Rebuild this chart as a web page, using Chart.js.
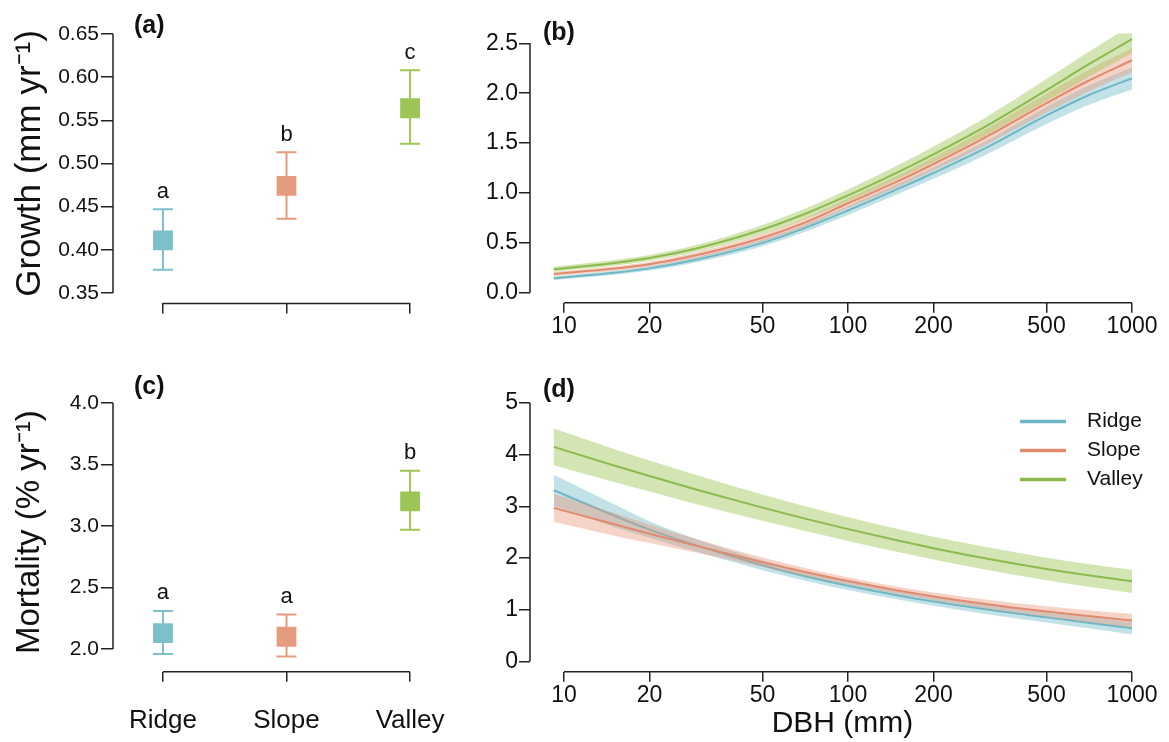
<!DOCTYPE html>
<html>
<head>
<meta charset="utf-8">
<script src="https://cdn.jsdelivr.net/npm/chart.js@4.4.1/dist/chart.umd.min.js"></script>
<style>
  html, body { margin: 0; padding: 0; background: #fff; }
  #wrap { position: relative; width: 1169px; height: 742px; overflow: hidden; }
  canvas { position: absolute; }
</style>
</head>
<body>
<div id="wrap">
  <canvas id="growth-site" width="480" height="360" style="left:0;top:0"></canvas>
  <canvas id="growth-dbh" width="699" height="360" style="left:470px;top:0"></canvas>
  <canvas id="mort-site" width="480" height="382" style="left:0;top:360px"></canvas>
  <canvas id="mort-dbh" width="699" height="382" style="left:470px;top:360px"></canvas>
</div>
<script>
const sites = ['Ridge', 'Slope', 'Valley'];
const sitePos = [1, 2, 3];

// (a) growth by site, mean and CI
const growthMean = [0.411, 0.474, 0.564];
const growthLow = [0.377, 0.436, 0.523];
const growthHigh = [0.447, 0.513, 0.608];
const growthLetters = ['a', 'b', 'c'];
const growthTicks = [0.35, 0.40, 0.45, 0.50, 0.55, 0.60, 0.65];

// (c) mortality by site
const mortMean = [2.13, 2.10, 3.20];
const mortLow = [1.96, 1.94, 2.97];
const mortHigh = [2.31, 2.28, 3.45];
const mortLetters = ['a', 'a', 'b'];
const mortTicks = [2.0, 2.5, 3.0, 3.5, 4.0];

// (b) and (d) fitted curves vs DBH
const dbh = [9.2, 15, 20, 30, 50, 70, 100, 150, 200, 300, 500, 700, 1000];
const dbhTicks = [10, 20, 50, 100, 200, 500, 1000];
const growthDbhTicks = [0, 0.5, 1.0, 1.5, 2.0, 2.5];
const mortDbhTicks = [0, 1, 2, 3, 4, 5];

const growthRidge   = [0.146, 0.200, 0.244, 0.338, 0.500, 0.645, 0.824, 1.040, 1.200, 1.439, 1.777, 1.977, 2.148];
const growthRidgeLo = [0.128, 0.180, 0.222, 0.311, 0.467, 0.607, 0.780, 0.989, 1.142, 1.371, 1.692, 1.880, 2.038];
const growthRidgeHi = [0.164, 0.220, 0.266, 0.365, 0.533, 0.683, 0.868, 1.091, 1.258, 1.507, 1.862, 2.074, 2.258];
const growthSlope   = [0.188, 0.242, 0.286, 0.383, 0.551, 0.700, 0.897, 1.118, 1.290, 1.547, 1.900, 2.122, 2.330];
const growthSlopeLo = [0.168, 0.220, 0.261, 0.353, 0.513, 0.656, 0.847, 1.060, 1.225, 1.469, 1.805, 2.014, 2.210];
const growthSlopeHi = [0.208, 0.264, 0.311, 0.413, 0.589, 0.744, 0.947, 1.176, 1.355, 1.625, 1.995, 2.230, 2.450];
const growthValley   = [0.235, 0.299, 0.349, 0.451, 0.633, 0.786, 0.975, 1.209, 1.387, 1.654, 2.031, 2.285, 2.542];
const growthValleyLo = [0.210, 0.271, 0.319, 0.416, 0.588, 0.734, 0.915, 1.139, 1.309, 1.564, 1.921, 2.160, 2.402];
const growthValleyHi = [0.260, 0.327, 0.379, 0.486, 0.678, 0.838, 1.035, 1.279, 1.465, 1.744, 2.141, 2.410, 2.682];

const mortRidge   = [3.31, 2.82, 2.55, 2.225, 1.86, 1.65, 1.462, 1.275, 1.157, 1.011, 0.851, 0.749, 0.640];
const mortRidgeLo = [3.01, 2.60, 2.39, 2.105, 1.765, 1.565, 1.382, 1.195, 1.075, 0.923, 0.751, 0.639, 0.520];
const mortRidgeHi = [3.61, 3.04, 2.71, 2.345, 1.955, 1.735, 1.542, 1.355, 1.239, 1.099, 0.951, 0.859, 0.760];
const mortSlope   = [2.97, 2.652, 2.470, 2.220, 1.918, 1.734, 1.554, 1.371, 1.256, 1.115, 0.964, 0.876, 0.789];
const mortSlopeLo = [2.695, 2.432, 2.290, 2.090, 1.828, 1.656, 1.482, 1.299, 1.181, 1.030, 0.864, 0.761, 0.659];
const mortSlopeHi = [3.245, 2.872, 2.650, 2.350, 2.008, 1.812, 1.626, 1.443, 1.331, 1.200, 1.064, 0.991, 0.919];
const mortValley   = [4.15, 3.79, 3.585, 3.307, 2.974, 2.767, 2.559, 2.337, 2.19, 2.00, 1.787, 1.664, 1.549];
const mortValleyLo = [3.795, 3.47, 3.285, 3.027, 2.719, 2.527, 2.331, 2.115, 1.97, 1.78, 1.567, 1.442, 1.324];
const mortValleyHi = [4.505, 4.11, 3.885, 3.587, 3.229, 3.007, 2.787, 2.559, 2.41, 2.22, 2.007, 1.886, 1.774];

// colours per site
const markColors = ['#7cc0ca', '#e59b7e', '#9dc556'];
const lineColors = ['#6fb7c4', '#e08a6e', '#8cbb4d'];
const bandColors = ['rgba(120,190,205,0.45)', 'rgba(232,150,122,0.42)', 'rgba(156,198,86,0.45)'];
const axisColor = '#222';
const textColor = '#111';

Chart.defaults.font.family = "'Liberation Sans', Arial, Helvetica, sans-serif";
Chart.defaults.color = textColor;

// R style axis lines: only from first to last tick
const rAxes = {
    id: 'rAxes',
    afterDraw(chart) {
        const {ctx, chartArea, scales} = chart;
        const xs = scales.x.ticks.map(t => scales.x.getPixelForValue(t.value));
        const ys = scales.y.ticks.map(t => scales.y.getPixelForValue(t.value));
        ctx.save();
        ctx.strokeStyle = axisColor;
        ctx.lineWidth = 1.5;
        ctx.beginPath();
        ctx.moveTo(Math.min(...xs), chartArea.bottom);
        ctx.lineTo(Math.max(...xs), chartArea.bottom);
        ctx.moveTo(chartArea.left, Math.min(...ys));
        ctx.lineTo(chartArea.left, Math.max(...ys));
        ctx.stroke();
        ctx.restore();
    }
};

// panel letter (a), (b) ...
function tagPlugin(text, dx, dy) {
    return {
        id: 'tag',
        afterDraw(chart) {
            const {ctx, chartArea} = chart;
            ctx.save();
            ctx.font = "bold 25px 'Liberation Sans', Arial, sans-serif";
            ctx.fillStyle = textColor;
            ctx.textBaseline = 'middle';
            ctx.fillText(text, chartArea.left + dx, chartArea.top + dy);
            ctx.restore();
        }
    };
}

// error bars + significance letters
function errPlugin(low, high, letters) {
    return {
        id: 'errBars',
        beforeDatasetsDraw(chart) {
            const {ctx, scales: {x, y}} = chart;
            ctx.save();
            ctx.lineWidth = 2;
            low.forEach((lo, i) => {
                const px = x.getPixelForValue(sitePos[i]);
                const y1 = y.getPixelForValue(lo);
                const y2 = y.getPixelForValue(high[i]);
                ctx.strokeStyle = markColors[i];
                ctx.beginPath();
                ctx.moveTo(px, y1); ctx.lineTo(px, y2);
                ctx.moveTo(px - 10, y1); ctx.lineTo(px + 10, y1);
                ctx.moveTo(px - 10, y2); ctx.lineTo(px + 10, y2);
                ctx.stroke();
            });
            ctx.restore();
        },
        afterDatasetsDraw(chart) {
            const {ctx, scales: {x, y}} = chart;
            ctx.save();
            ctx.font = "22px 'Liberation Sans', Arial, sans-serif";
            ctx.fillStyle = textColor;
            ctx.textAlign = 'center';
            ctx.textBaseline = 'alphabetic';
            letters.forEach((l, i) => {
                ctx.fillText(l, x.getPixelForValue(sitePos[i]), y.getPixelForValue(high[i]) - 11.5);
            });
            ctx.restore();
        }
    };
}

// legend inside panel (d)
const siteLegend = {
    id: 'siteLegend',
    afterDraw(chart) {
        const {ctx, chartArea} = chart;
        ctx.save();
        ctx.font = "21px 'Liberation Sans', Arial, sans-serif";
        ctx.textBaseline = 'middle';
        ctx.lineWidth = 3.5;
        sites.forEach((s, i) => {
            const yy = chartArea.top + 29 + i * 29;
            ctx.strokeStyle = lineColors[i];
            ctx.beginPath();
            ctx.moveTo(chartArea.right - 135, yy);
            ctx.lineTo(chartArea.right - 89, yy);
            ctx.stroke();
            ctx.fillStyle = textColor;
            ctx.fillText(s, chartArea.right - 68, yy);
        });
        ctx.restore();
    }
};

const tickGrid = len => ({display: true, drawOnChartArea: false, drawTicks: true, tickLength: len, color: axisColor, lineWidth: 1.5});

function siteChart(id, cfg) {
    return new Chart(document.getElementById(id), {
        type: 'scatter',
        data: {
            datasets: [{
                data: sitePos.map((p, i) => ({x: p, y: cfg.mean[i]})),
                backgroundColor: markColors,
                borderWidth: 0,
                pointStyle: 'rect',
                pointRadius: 14,
                pointHoverRadius: 14
            }]
        },
        options: {
            responsive: false,
            animation: false,
            events: [],
            layout: {padding: {left: 0, top: cfg.top, right: 20, bottom: 0}},
            plugins: {legend: {display: false}, tooltip: {enabled: false}},
            scales: {
                x: {
                    type: 'linear', min: 0.596, max: 3.404, bounds: 'data',
                    afterBuildTicks: s => { s.ticks = sitePos.map(v => ({value: v})); },
                    afterFit: s => { s.height = cfg.xHeight; },
                    grid: tickGrid(10),
                    border: {display: false},
                    ticks: {
                        callback: v => cfg.showSites ? sites[v - 1] : '',
                        font: {size: 26}, padding: 24, autoSkip: false, maxRotation: 0
                    }
                },
                y: {
                    type: 'linear', min: cfg.ymin, max: cfg.ymax, bounds: 'data',
                    afterBuildTicks: s => { s.ticks = cfg.ticks.map(v => ({value: v})); },
                    afterFit: s => { s.width = 113; },
                    grid: tickGrid(12),
                    border: {display: false},
                    ticks: {callback: v => v.toFixed(cfg.dec), font: {size: 21}, padding: 2, autoSkip: false},
                    title: {display: true, text: cfg.title, font: {size: cfg.titleSize}, color: textColor, padding: {top: cfg.titlePad, bottom: 0}}
                }
            }
        },
        plugins: [rAxes, errPlugin(cfg.low, cfg.high, cfg.letters), tagPlugin(cfg.tag, 21, cfg.tagDy)]
    });
}

function dbhChart(id, cfg) {
    const pts = arr => dbh.map((d, i) => ({x: d, y: arr[i]}));
    const datasets = [];
    cfg.series.forEach((s, i) => {
        const rank = 2 * (cfg.series.length - i);
        datasets.push({data: pts(s.hi), fill: '+1', backgroundColor: bandColors[i], borderColor: 'rgba(0,0,0,0)', borderWidth: 0, pointRadius: 0, cubicInterpolationMode: 'monotone', order: rank + 1});
        datasets.push({data: pts(s.lo), fill: false, borderColor: 'rgba(0,0,0,0)', borderWidth: 0, pointRadius: 0, cubicInterpolationMode: 'monotone', order: rank + 1});
        datasets.push({label: sites[i], data: pts(s.mid), fill: false, borderColor: lineColors[i], borderWidth: 2, pointRadius: 0, cubicInterpolationMode: 'monotone', order: rank});
    });
    const plugins = [rAxes, tagPlugin(cfg.tag, 13, cfg.tagDy)];
    if (cfg.legend) plugins.push(siteLegend);
    return new Chart(document.getElementById(id), {
        type: 'line',
        data: {datasets},
        options: {
            responsive: false,
            animation: false,
            events: [],
            layout: {padding: {left: 0, top: cfg.top, right: 14, bottom: 0}},
            plugins: {legend: {display: false}, tooltip: {enabled: false}},
            scales: {
                x: {
                    type: 'logarithmic', min: 7.59, max: 1205, bounds: 'data',
                    afterBuildTicks: s => { s.ticks = dbhTicks.map(v => ({value: v})); },
                    afterFit: s => { s.height = cfg.xHeight; },
                    grid: tickGrid(10),
                    border: {display: false},
                    ticks: {callback: v => String(v), font: {size: 23}, padding: 0, autoSkip: false, maxRotation: 0},
                    title: {display: !!cfg.xTitle, text: cfg.xTitle || '', font: {size: 30}, color: textColor, padding: {top: 0, bottom: 0}}
                },
                y: {
                    type: 'linear', min: cfg.ymin, max: cfg.ymax, bounds: 'data',
                    afterBuildTicks: s => { s.ticks = cfg.ticks.map(v => ({value: v})); },
                    afterFit: s => { s.width = 60; },
                    grid: tickGrid(11),
                    border: {display: false},
                    ticks: {callback: v => v.toFixed(cfg.dec), font: {size: 23}, padding: 1, autoSkip: false}
                }
            }
        },
        plugins
    });
}

siteChart('growth-site', {
    mean: growthMean, low: growthLow, high: growthHigh, letters: growthLetters,
    ticks: growthTicks, ymin: 0.338, ymax: 0.662, dec: 2,
    title: 'Growth (mm yr\u207B\u00B9)', titleSize: 35, titlePad: 9,
    top: 23.6, xHeight: 56.6, showSites: false, tag: '(a)', tagDy: 3
});

dbhChart('growth-dbh', {
    series: [
        {mid: growthRidge, lo: growthRidgeLo, hi: growthRidgeHi},
        {mid: growthSlope, lo: growthSlopeLo, hi: growthSlopeHi},
        {mid: growthValley, lo: growthValleyLo, hi: growthValleyHi}
    ],
    ticks: growthDbhTicks, ymin: -0.1, ymax: 2.6, dec: 1,
    top: 33.3, xHeight: 57.3, tag: '(b)', tagDy: -0.5
});

siteChart('mort-site', {
    mean: mortMean, low: mortLow, high: mortHigh, letters: mortLetters,
    ticks: mortTicks, ymin: 1.816, ymax: 4.084, dec: 1,
    title: 'Mortality (% yr\u207B\u00B9)', titleSize: 33, titlePad: 10,
    top: 32.7, xHeight: 70.3, showSites: true, tag: '(c)', tagDy: -6
});

dbhChart('mort-dbh', {
    series: [
        {mid: mortRidge, lo: mortRidgeLo, hi: mortRidgeHi},
        {mid: mortSlope, lo: mortSlopeLo, hi: mortSlopeHi},
        {mid: mortValley, lo: mortValleyLo, hi: mortValleyHi}
    ],
    ticks: mortDbhTicks, ymin: -0.2, ymax: 5.2, dec: 0,
    top: 32.6, xHeight: 70.3, tag: '(d)', tagDy: -2.6,
    legend: true, xTitle: 'DBH (mm)'
});
</script>
</body>
</html>
